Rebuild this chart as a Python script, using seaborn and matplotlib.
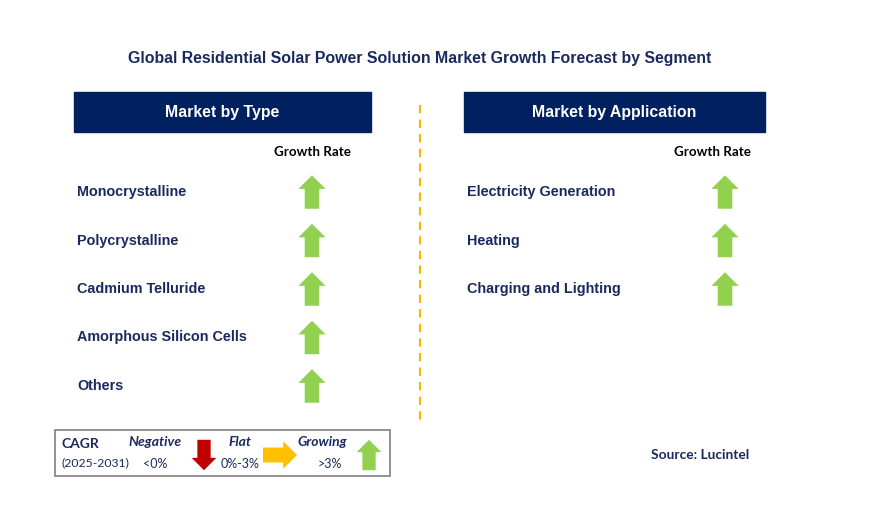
import numpy as np
import pandas as pd
import matplotlib
matplotlib.use("Agg")
import matplotlib.pyplot as plt
from matplotlib.path import Path
from matplotlib.patches import Rectangle
import seaborn as sns

# chart content
title = "Global Residential Solar Power Solution Market Growth Forecast by Segment"
panel_titles = ["Market by Type", "Market by Application"]
type_segments = ["Monocrystalline", "Polycrystalline", "Cadmium Telluride",
                 "Amorphous Silicon Cells", "Others"]
type_growth = ["Growing", "Growing", "Growing", "Growing", "Growing"]
app_segments = ["Electricity Generation", "Heating", "Charging and Lighting"]
app_growth = ["Growing", "Growing", "Growing"]
legend_labels = ["Negative", "Flat", "Growing"]
legend_ranges = ["<0%", "0%-3%", ">3%"]
source = "Source: Lucintel"

NAVY = "#002060"
TEXT = "#1b2a5e"
GREEN = "#92d050"
RED = "#c00000"
ORANGE = "#ffc000"
colors = {"Negative": RED, "Flat": ORANGE, "Growing": GREEN}


def arrow_path(angle=0):
    # up-pointing block arrow, rotated by angle degrees (counter-clockwise)
    v = np.array([(-7, -16), (7, -16), (7, 3), (13, 3), (0, 16), (-13, 3), (-7, 3), (-7, -16)], float)
    t = np.deg2rad(angle)
    rot = np.array([[np.cos(t), -np.sin(t)], [np.sin(t), np.cos(t)]])
    v = v @ rot.T
    codes = [Path.MOVETO] + [Path.LINETO] * 6 + [Path.CLOSEPOLY]
    return Path(v, codes)


markers = {"Growing": arrow_path(0), "Negative": arrow_path(180), "Flat": arrow_path(-90)}

sns.set_theme(style="white")
plt.rcParams["font.family"] = ["Liberation Sans", "DejaVu Sans"]

fig = plt.figure(figsize=(8.93, 5.24), dpi=100)
ax = fig.add_axes([0, 0, 1, 1])
ax.set_xlim(0, 893)
ax.set_ylim(524, 0)
ax.axis("off")

ax.text(420, 58, title, ha="center", va="center", fontsize=11.4, fontweight="bold", color=TEXT)

# panel headers
for x0, w, label in [(74, 297, panel_titles[0]), (464, 301, panel_titles[1])]:
    ax.add_patch(Rectangle((x0, 92), w, 40, color=NAVY, zorder=1))
    ax.text(x0 + w / 2, 113, label, ha="center", va="center", fontsize=11.4,
            fontweight="bold", color="white", zorder=2)

# divider
ax.plot([420, 420], [105, 420], ls=(0, (4, 3)), color="#f5b800", lw=1.5)

row_y0, row_step = 192, 48.5
panels = [
    (type_segments, type_growth, 77, 312, 312),
    (app_segments, app_growth, 467, 725, 712),
]
lf = ["Lato", "DejaVu Sans"]
for segs, growth, lx, arrow_x, head_x in panels:
    ax.text(head_x, 152, "Growth Rate", ha="center", va="center", fontsize=9.6,
            fontweight="bold", color="black", family=lf)
    df = pd.DataFrame({"segment": segs, "growth": growth})
    df["y"] = row_y0 + np.arange(len(df)) * row_step
    df["x"] = arrow_x
    for seg, y in zip(df["segment"], df["y"]):
        ax.text(lx, y, seg, ha="left", va="center", fontsize=10.4, fontweight="bold", color=TEXT)
    sns.scatterplot(data=df, x="x", y="y", hue="growth", style="growth", palette=colors,
                    markers=markers, s=580, linewidth=0, legend=False, ax=ax, zorder=3)

# CAGR legend box
ax.add_patch(Rectangle((55, 430), 335, 46, fill=False, ec="#7f7f7f", lw=1.2))
ax.text(62, 444, "CAGR", ha="left", va="center", fontsize=10, fontweight="bold", color=TEXT, family=lf)
ax.text(62, 463, "(2025-2031)", ha="left", va="center", fontsize=8.8, color=TEXT, family=lf)
leg = pd.DataFrame({"growth": legend_labels, "range": legend_ranges,
                    "tx": [155, 240, 322], "rx": [155, 240, 330], "mx": [204, 280, 369]})
for _, r in leg.iterrows():
    ax.text(r["tx"], 442, r["growth"], ha="center", va="center", fontsize=10,
            fontweight="bold", style="italic", color=TEXT, family=lf)
    ax.text(r["rx"], 464, r["range"], ha="center", va="center", fontsize=9, color=TEXT, family=lf)
leg["y"] = [455, 455, 455]
sns.scatterplot(data=leg, x="mx", y="y", hue="growth", style="growth", palette=colors,
                markers=markers, s=[480, 600, 480], linewidth=0, legend=False, ax=ax, zorder=3)

ax.text(700, 455, source, ha="center", va="center", fontsize=9.9, fontweight="bold",
        color=TEXT, family=lf)

fig.savefig("out.png", dpi=100)
